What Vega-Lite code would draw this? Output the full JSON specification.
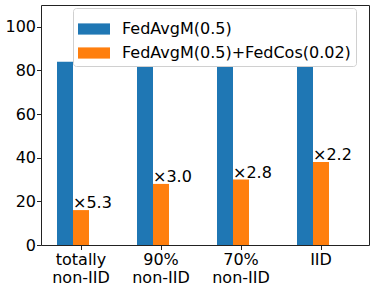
{
  "$schema": "https://vega.github.io/schema/vega-lite/v6.json",
  "width": 328,
  "height": 240,
  "autosize": {"type": "none"},
  "padding": {"left": 41, "top": 5, "right": 5, "bottom": 44},
  "config": {
    "view": {"stroke": "#222", "strokeWidth": 1},
    "font": "DejaVu Sans",
    "axis": {"labelFont": "DejaVu Sans", "labelFontSize": 16, "labelColor": "#000", "tickColor": "#222", "tickSize": 4.5, "domain": false, "grid": false, "title": null}
  },
  "data": {
    "values": [
      {"setting": "totally non-IID", "method": "FedAvgM(0.5)", "acc": 84},
      {"setting": "totally non-IID", "method": "FedAvgM(0.5)+FedCos(0.02)", "acc": 16, "label": "×5.3"},
      {"setting": "90% non-IID", "method": "FedAvgM(0.5)", "acc": 84},
      {"setting": "90% non-IID", "method": "FedAvgM(0.5)+FedCos(0.02)", "acc": 28, "label": "×3.0"},
      {"setting": "70% non-IID", "method": "FedAvgM(0.5)", "acc": 84},
      {"setting": "70% non-IID", "method": "FedAvgM(0.5)+FedCos(0.02)", "acc": 30, "label": "×2.8"},
      {"setting": "IID", "method": "FedAvgM(0.5)", "acc": 84},
      {"setting": "IID", "method": "FedAvgM(0.5)+FedCos(0.02)", "acc": 38, "label": "×2.2"}
    ]
  },
  "encoding": {
    "x": {
      "field": "setting", "type": "nominal",
      "scale": {"domain": ["totally non-IID", "90% non-IID", "70% non-IID", "IID"], "paddingInner": 0.4, "paddingOuter": 0.25, "align": 0.4},
      "axis": {"labelAngle": 0, "labelExpr": "split(datum.label, ' ')", "labelLineHeight": 17.5, "labelPadding": 2, "labelBaseline": "top"}
    },
    "xOffset": {
      "field": "method", "type": "nominal",
      "scale": {"domain": ["FedAvgM(0.5)", "FedAvgM(0.5)+FedCos(0.02)", "_"], "paddingInner": 0, "paddingOuter": 0}
    },
    "y": {
      "field": "acc", "type": "quantitative",
      "scale": {"domain": [0, 110], "nice": false},
      "axis": {"values": [0, 20, 40, 60, 80, 100], "labelPadding": 1}
    }
  },
  "layer": [
    {
      "mark": {"type": "bar"},
      "encoding": {
        "color": {
          "field": "method", "type": "nominal",
          "scale": {"domain": ["FedAvgM(0.5)", "FedAvgM(0.5)+FedCos(0.02)"], "range": ["#1f77b4", "#ff7f0e"]},
          "legend": {
            "orient": "none", "legendX": 32, "legendY": 3, "title": null,
            "fillColor": "#ffffff", "strokeColor": "#d0d0d0", "cornerRadius": 3, "padding": 5,
            "symbolType": "M-1,-0.35H1V0.35H-1Z", "symbolSize": 1024, "symbolStrokeWidth": 0, "symbolOpacity": 1,
            "labelFontSize": 16, "labelFont": "DejaVu Sans", "labelColor": "#000", "labelOffset": 12, "labelLimit": 0, "rowPadding": -1
          }
        }
      }
    },
    {
      "transform": [{"filter": "isValid(datum.label)"}],
      "mark": {"type": "text", "align": "left", "baseline": "alphabetic", "dx": -8, "dy": -2, "fontSize": 16, "font": "DejaVu Sans", "color": "#000"},
      "encoding": {"text": {"field": "label"}}
    }
  ]
}
